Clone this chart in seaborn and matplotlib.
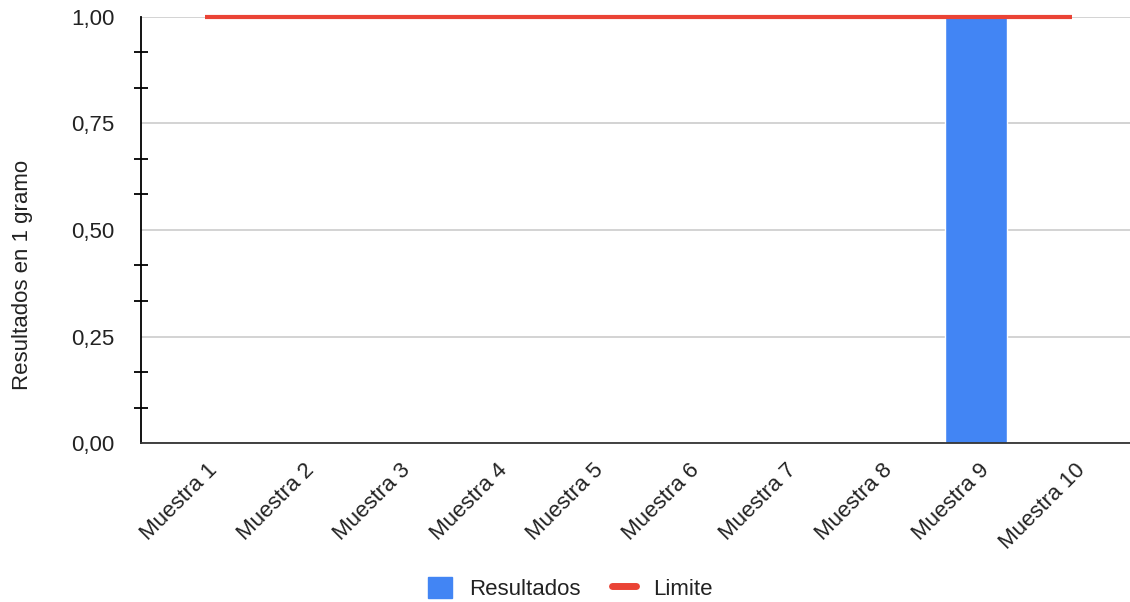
import numpy as np
import matplotlib
matplotlib.use("Agg")
import matplotlib.pyplot as plt
import matplotlib.transforms as mtransforms
import seaborn as sns
from matplotlib.lines import Line2D
from matplotlib.patches import Patch
from matplotlib.ticker import MultipleLocator, FuncFormatter

muestras = ["Muestra 1", "Muestra 2", "Muestra 3", "Muestra 4", "Muestra 5",
            "Muestra 6", "Muestra 7", "Muestra 8", "Muestra 9", "Muestra 10"]
resultados = [0, 0, 0, 0, 0, 0, 0, 0, 1, 0]
limite = [1, 1, 1, 1, 1, 1, 1, 1, 1, 1]

azul = "#4285F4"
rojo = "#EA4335"
texto = "#222222"

sns.set_style("white")
plt.rcParams['font.family'] = ['Liberation Sans', 'DejaVu Sans']

fig = plt.figure(figsize=(11.3, 6.02), dpi=100)
ax = fig.add_axes([0.1248, 0.264, 0.8752, 0.708])

# barras
sns.barplot(x=muestras, y=resultados, color=azul, saturation=1, width=0.64, ax=ax, zorder=2)
# linea limite
sns.lineplot(x=np.arange(len(muestras)), y=limite, color=rojo, linewidth=3, ax=ax, zorder=3)
for ln in ax.lines:
    ln.set_clip_on(False)
    ln.set_solid_capstyle("butt")

ax.set_ylim(0, 1)
ax.set_xlim(-0.66, 9.6)
ax.yaxis.set_major_locator(MultipleLocator(0.25))
ax.yaxis.set_minor_locator(MultipleLocator(0.25 / 3))
ax.yaxis.set_major_formatter(FuncFormatter(lambda v, p: f"{v:.2f}".replace(".", ",")))
ax.grid(axis="y", which="major", color="#cccccc", linewidth=1.2, zorder=0)
ax.set_axisbelow(True)

ax.tick_params(axis="y", which="major", length=0, labelsize=16, pad=19, colors=texto)
ax.tick_params(axis="y", which="minor", length=10, width=1.3, direction="inout", color="black", left=True)
ax.tick_params(axis="x", length=0, labelsize=16, pad=17, colors=texto)
desplaza = mtransforms.ScaledTranslation(10 / 100, 0, fig.dpi_scale_trans)
for lab in ax.get_xticklabels():
    lab.set_rotation(45)
    lab.set_ha("right")
    lab.set_va("center")
    lab.set_rotation_mode("anchor")
    lab.set_transform(lab.get_transform() + desplaza)

for s in ["top", "right"]:
    ax.spines[s].set_visible(False)
ax.spines["left"].set_color("black")
ax.spines["left"].set_linewidth(1.3)
ax.spines["bottom"].set_color("#333333")
ax.spines["bottom"].set_linewidth(1.3)

ax.set_xlabel("")
ax.set_ylabel("Resultados en 1 gramo", fontsize=16, color=texto)
ax.yaxis.set_label_coords(-0.109, 0.394)

handles = [Patch(facecolor=azul, edgecolor=azul, label="Resultados"),
           Line2D([0], [0], color=rojo, linewidth=5, label="Limite")]
fig.legend(handles=handles, loc="lower center", bbox_to_anchor=(0.505, -0.03), ncol=2,
           frameon=False, fontsize=16, handlelength=1.05, handleheight=1.05,
           columnspacing=1.4, handletextpad=0.8, labelcolor=texto)

fig.savefig("out.png", dpi=100)
